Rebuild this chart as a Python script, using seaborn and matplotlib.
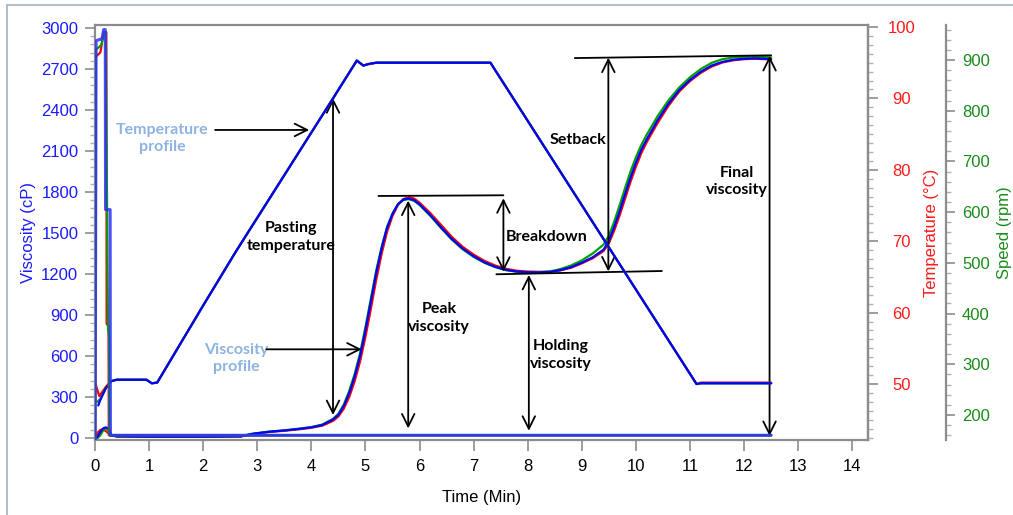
import matplotlib
matplotlib.use("Agg")
import matplotlib.pyplot as plt
from matplotlib.lines import Line2D
from matplotlib.ticker import MultipleLocator
import seaborn as sns

# ---------------- data ----------------
# Viscosity (cP) against time (min) for three replicate runs
time_visc = [0.0, 0.05, 0.1, 0.15, 0.2, 0.25, 0.3, 0.4, 1.0, 2.0, 2.7, 2.9, 3.2,
             3.5, 3.8, 4.0, 4.2, 4.4, 4.5, 4.6, 4.7, 4.8, 4.9, 5.0, 5.1, 5.2,
             5.3, 5.4, 5.5, 5.6, 5.7, 5.8, 5.9, 6.0, 6.2, 6.4, 6.6, 6.8, 7.0,
             7.2, 7.4, 7.6, 7.8, 8.0, 8.2, 8.4, 8.6, 8.8, 9.0, 9.2, 9.4, 9.5,
             9.6, 9.7, 9.8, 9.9, 10.0, 10.1, 10.2, 10.4, 10.6, 10.8, 11.0,
             11.2, 11.4, 11.6, 11.8, 12.0, 12.2, 12.5]
visc_red = [0, 40, 60, 62, 50, 35, 20, 12, 10, 10, 12, 28, 43,
            53, 65, 75, 90, 125, 158, 215, 300, 415, 560, 740, 945, 1160,
            1350, 1510, 1625, 1705, 1748, 1762, 1752, 1722, 1645, 1558, 1470, 1398, 1342,
            1296, 1262, 1238, 1224, 1218, 1216, 1217, 1226, 1246, 1278, 1315, 1368, 1425,
            1520, 1630, 1752, 1875, 1985, 2085, 2165, 2305, 2430, 2535, 2612,
            2672, 2718, 2748, 2764, 2772, 2775, 2770]
visc_green = [0, 0, 20, 55, 70, 60, 20, 12, 10, 10, 12, 30, 46,
              56, 69, 80, 98, 140, 178, 245, 345, 468, 620, 812, 1020, 1228,
              1400, 1545, 1642, 1710, 1742, 1748, 1735, 1705, 1625, 1535, 1450, 1380, 1325,
              1282, 1250, 1228, 1216, 1212, 1213, 1218, 1236, 1262, 1300, 1350, 1415, 1480,
              1585, 1705, 1830, 1950, 2055, 2145, 2220, 2355, 2470, 2565, 2640,
              2700, 2745, 2772, 2785, 2790, 2790, 2785]
visc_blue = [0, 10, 45, 70, 78, 70, 20, 12, 10, 10, 12, 30, 45,
             55, 68, 78, 95, 135, 170, 235, 330, 450, 600, 790, 1000, 1210,
             1390, 1540, 1640, 1710, 1745, 1752, 1740, 1710, 1630, 1540, 1455, 1385, 1330,
             1285, 1252, 1230, 1218, 1213, 1212, 1215, 1228, 1250, 1283, 1322, 1378, 1442,
             1545, 1660, 1785, 1905, 2015, 2110, 2185, 2325, 2445, 2545, 2620,
             2680, 2725, 2752, 2768, 2775, 2778, 2772]

# Temperature (°C) against time (min)
time_temp_red = [0.0, 0.08, 0.2, 0.3, 0.4, 0.95, 1.05, 1.15, 2.0, 2.6, 4.4,
                 4.84, 4.96, 5.05, 5.2, 7.31, 11.12, 11.2, 12.5]
temp_red = [50.2, 48.3, 49.6, 50.4, 50.6, 50.6, 50.1, 50.2, 61.0, 68.5, 90.0,
            95.3, 94.6, 94.8, 95.0, 95.0, 50.0, 50.2, 50.2]
time_temp_green = [0.04, 0.1, 0.2, 0.3, 0.4, 0.95, 1.05, 1.15, 2.0, 2.6, 4.4,
                   4.84, 4.96, 5.05, 5.2, 7.31, 11.12, 11.2, 12.5]
temp_green = [47.5, 47.9, 49.5, 50.4, 50.6, 50.6, 50.1, 50.2, 61.0, 68.5, 90.0,
              95.3, 94.6, 94.8, 95.0, 95.0, 50.0, 50.1, 50.1]
time_temp_blue = [0.06, 0.1, 0.2, 0.3, 0.4, 0.95, 1.05, 1.15, 2.0, 2.6, 4.4,
                  4.84, 4.96, 5.05, 5.2, 7.31, 11.12, 11.2, 12.5]
temp_blue = [47.0, 47.8, 49.4, 50.4, 50.6, 50.6, 50.1, 50.2, 61.0, 68.5, 90.0,
             95.3, 94.6, 94.8, 95.0, 95.0, 50.0, 50.1, 50.1]

# Paddle speed (rpm) against time (min)
time_speed_red = [0.0, 0.01, 0.1, 0.16, 0.21, 0.215, 0.25, 0.255, 12.5]
speed_red = [0, 906, 915, 955, 955, 380, 375, 160, 160]
time_speed_green = [0.0, 0.015, 0.12, 0.16, 0.2, 0.24, 0.26, 0.265, 12.5]
speed_green = [0, 920, 930, 955, 955, 370, 355, 160, 160]
time_speed_blue = [0.0, 0.02, 0.13, 0.16, 0.19, 0.195, 0.28, 0.285, 12.5]
speed_blue = [0, 938, 942, 960, 960, 605, 605, 160, 160]

time_ticks = list(range(0, 15))
visc_ticks = list(range(0, 3001, 300))
temp_ticks = [50, 60, 70, 80, 90, 100]
speed_ticks = [200, 300, 400, 500, 600, 700, 800, 900]

# ---------------- styling ----------------
sns.set_theme(style="white")
plt.rcParams["font.family"] = ["Liberation Sans", "DejaVu Sans"]

BLUE_TXT = "#1a1aff"
RED_TXT = "#ff1a1a"
GREEN_TXT = "#1a8c1a"
SPINE = "#8c8c8c"
run_colors = {"red": "#ff0000", "green": "#00a000", "blue": "#0000ff"}
LW = 1.6

W, H = 1013, 515
fig = plt.figure(figsize=(W / 100, H / 100), dpi=100)
fig.patch.set_facecolor("white")
ax = fig.add_axes([95 / W, 1 - 440 / H, 773 / W, 415 / H])
ax_t = ax.twinx()
ax_s = ax.twinx()

# viscosity curves
for name, yv in (("red", visc_red), ("green", visc_green), ("blue", visc_blue)):
    sns.lineplot(x=time_visc, y=yv, ax=ax, color=run_colors[name], lw=LW,
                 sort=False, estimator=None)
# temperature curves
for name, tt, yv in (("red", time_temp_red, temp_red),
                     ("green", time_temp_green, temp_green),
                     ("blue", time_temp_blue, temp_blue)):
    sns.lineplot(x=tt, y=yv, ax=ax_t, color=run_colors[name], lw=LW,
                 sort=False, estimator=None)
# speed curves
for name, tt, yv in (("red", time_speed_red, speed_red),
                     ("green", time_speed_green, speed_green),
                     ("blue", time_speed_blue, speed_blue)):
    if name == "blue":
        sns.lineplot(x=tt, y=yv, ax=ax_s, color="#3030ff", lw=2.2, alpha=0.85,
                     sort=False, estimator=None)
    else:
        sns.lineplot(x=tt, y=yv, ax=ax_s, color=run_colors[name], lw=LW,
                     sort=False, estimator=None)

# ---------------- axes ----------------
ax.set_xlim(0, 14.29)
ax.set_ylim(-14.6, 3022)
ax_t.set_ylim(42.16, 100.28)
ax_s.set_ylim(150.7, 969)

ax.set_xticks(time_ticks)
ax.set_yticks(visc_ticks)
ax.yaxis.set_minor_locator(MultipleLocator(60))
ax_t.set_yticks(temp_ticks)
ax_t.yaxis.set_minor_locator(MultipleLocator(1.25))
ax_s.set_yticks(speed_ticks)
ax_s.yaxis.set_minor_locator(MultipleLocator(20))

for a in (ax, ax_t, ax_s):
    a.grid(False)
    a.set_xlabel("")
    a.set_ylabel("")

for s in ax.spines.values():
    s.set_color(SPINE)
    s.set_linewidth(1.6)
for key in ("top", "bottom", "left"):
    ax_t.spines[key].set_visible(False)
    ax_s.spines[key].set_visible(False)
ax_t.spines["right"].set_color(SPINE)
ax_t.spines["right"].set_linewidth(1.6)
ax_s.spines["right"].set_position(("axes", (946 - 95) / 773))
ax_s.spines["right"].set_color(SPINE)
ax_s.spines["right"].set_linewidth(1.6)

ax.tick_params(axis="x", which="major", direction="out", length=8, width=1.2,
               color=SPINE, labelcolor="black", labelsize=12, pad=6,
               bottom=True)
ax.tick_params(axis="y", which="major", direction="out", length=7, width=1.2,
               color=SPINE, labelcolor=BLUE_TXT, labelsize=12, pad=5, left=True)
ax.tick_params(axis="y", which="minor", direction="out", length=3.5, width=1.0,
               color="#b0b0b0", left=True)
ax_t.tick_params(axis="y", which="major", direction="out", length=7, width=1.2,
                 color=SPINE, labelcolor=RED_TXT, labelsize=12, pad=17, right=True)
ax_t.tick_params(axis="y", which="minor", direction="out", length=3.5, width=1.0,
                 color="#b0b0b0", right=True)
plt.setp(ax_t.get_yticklabels(), ha="center")
ax_s.tick_params(axis="y", which="major", direction="out", length=6.5, width=1.2,
                 color=SPINE, labelcolor=GREEN_TXT, labelsize=12, pad=5, right=True)
ax_s.tick_params(axis="y", which="minor", direction="out", length=3.5, width=1.0,
                 color="#b0b0b0", right=True)

ax.set_xlabel("Time (Min)", fontsize=12, color="black", labelpad=11)
ax.set_ylabel("Viscosity (cP)", fontsize=12, color=BLUE_TXT)
ax.yaxis.set_label_coords((28 - 95) / 773, 0.5)
ax.yaxis.label.set_va("center")
ax_t.set_ylabel("Temperature (°C)", fontsize=12, color=RED_TXT)
ax_t.yaxis.set_label_coords((931 - 95) / 773, 0.5)
ax_t.yaxis.label.set_va("center")
ax_s.set_ylabel("Speed (rpm)", fontsize=12, color=GREEN_TXT)
ax_s.yaxis.set_label_coords((1004 - 95) / 773, 0.5)
ax_s.yaxis.label.set_va("center")

# ---------------- annotations (viscosity axis coordinates) ----------------
ANN = dict(family=["Lato", "DejaVu Sans"], fontweight="bold", fontsize=11.5)
PROFILE = "#8db3e2"
arrow2 = dict(arrowstyle="<->,head_length=0.6,head_width=0.3", color="black",
              lw=1.3, shrinkA=0, shrinkB=0, mutation_scale=15)
arrow1 = dict(arrowstyle="->,head_length=0.6,head_width=0.3", color="black",
              lw=1.3, shrinkA=0, shrinkB=0, mutation_scale=15)

def double_arrow(x, y0, y1):
    ax.annotate("", xy=(x, y1), xytext=(x, y0), arrowprops=arrow2)

def level_line(x0, y0, x1, y1):
    ax.plot([x0, x1], [y0, y1], color="black", lw=1.3)

# profile labels with pointers
ax.text(1.24, 2190, "Temperature\nprofile", color=PROFILE, ha="center",
        va="center", linespacing=1.25, **ANN)
ax.annotate("", xy=(3.96, 2254), xytext=(2.22, 2254), arrowprops=arrow1)
ax.text(2.62, 580, "Viscosity\nprofile", color=PROFILE, ha="center",
        va="center", linespacing=1.25, **ANN)
ax.annotate("", xy=(4.93, 649), xytext=(3.17, 649), arrowprops=arrow1)

# pasting temperature
double_arrow(4.40, 168, 2486)
ax.text(3.63, 1470, "Pasting\ntemperature", color="black", ha="center",
        va="center", linespacing=1.3, **ANN)

# peak viscosity and breakdown
level_line(5.24, 1771, 7.55, 1776)
double_arrow(5.79, 70, 1737)
ax.text(6.36, 878, "Peak\nviscosity", color="black", ha="center",
        va="center", linespacing=1.3, **ANN)
double_arrow(7.55, 1217, 1754)
ax.text(7.59, 1469, "Breakdown", color="black", ha="left", va="center", **ANN)

# holding viscosity
level_line(7.42, 1198, 10.48, 1222)
double_arrow(8.02, 53, 1193)
ax.text(8.61, 607, "Holding\nviscosity", color="black", ha="center",
        va="center", linespacing=1.3, **ANN)

# setback and final viscosity
level_line(8.87, 2780, 12.5, 2800)
double_arrow(9.49, 1219, 2783)
ax.text(8.93, 2183, "Setback", color="black", ha="center", va="center", **ANN)
double_arrow(12.47, 15, 2795)
ax.text(11.87, 1877, "Final\nviscosity", color="black", ha="center",
        va="center", linespacing=1.3, **ANN)

# window frame
fig.add_artist(Line2D([7 / W, 7 / W], [0, 1 - 5 / H], transform=fig.transFigure,
                      color="#a9b8c8", lw=1.3))
fig.add_artist(Line2D([7 / W, 1], [1 - 5 / H, 1 - 5 / H], transform=fig.transFigure,
                      color="#a9b8c8", lw=1.3))

fig.savefig("out.png", dpi=100, facecolor="white")
